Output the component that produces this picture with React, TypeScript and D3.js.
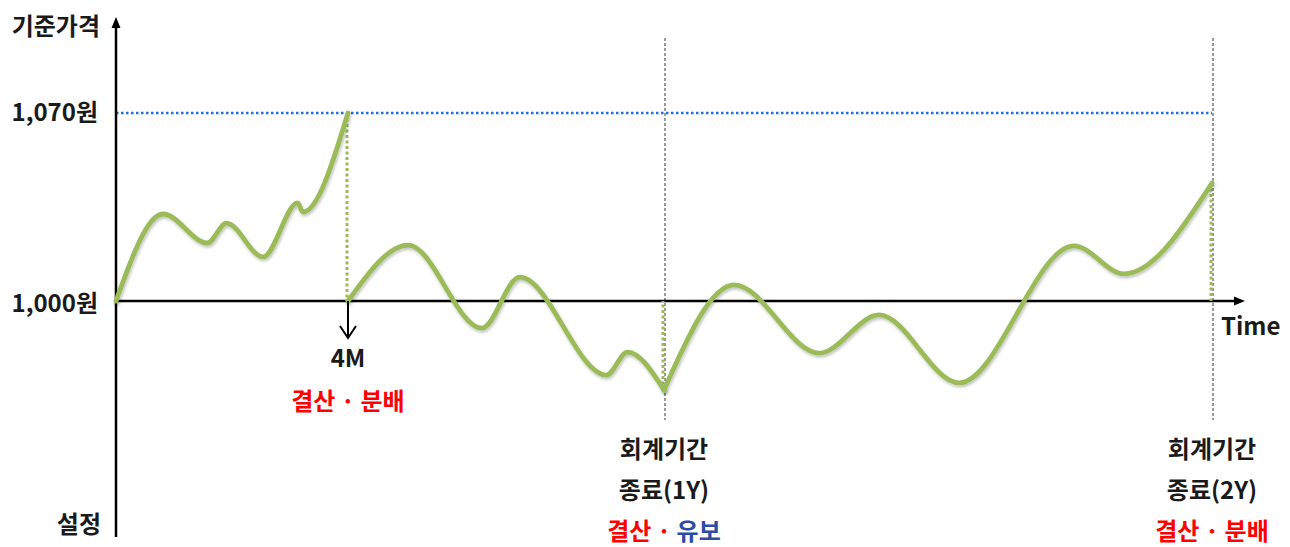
import { curveMonotoneX, line, scaleLinear, select } from 'd3';
import React, { useEffect, useRef } from 'react';

// t: months since launch (1Y = 12, 2Y = 24), v: NAV per unit (원)
const beforeFirstPayout = [
  { t: 0, v: 1000 },
  { t: 1.03, v: 1032.4 },
  { t: 2.0, v: 1021.6 },
  { t: 2.42, v: 1029.0 },
  { t: 3.22, v: 1016.4 },
  { t: 3.98, v: 1036.5 },
  { t: 4.09, v: 1033.1 },
  { t: 5.08, v: 1070 },
];
const firstYear = [
  { t: 5.08, v: 1000 },
  { t: 6.4, v: 1020.8 },
  { t: 8.01, v: 989.9 },
  { t: 8.84, v: 1008.9 },
  { t: 10.74, v: 972.4 },
  { t: 11.2, v: 981.0 },
  { t: 12, v: 966.9 },
];
const secondYear = [
  { t: 12, v: 966.9 },
  { t: 13.54, v: 1006 },
  { t: 15.4, v: 980.6 },
  { t: 16.71, v: 994.8 },
  { t: 18.46, v: 969.5 },
  { t: 20.98, v: 1020.5 },
  { t: 22.07, v: 1010.1 },
  { t: 24, v: 1043.9 },
];

const basePrice = 1000;
const highPrice = 1070;
const priceLabels = [
  { v: 1070, label: '1,070원' },
  { v: 1000, label: '1,000원' },
];
const payoutTime = 5.08;
const periodEnds = [
  { t: 12, line1: '회계기간', line2: '종료(1Y)', action: '유보', actionColor: '#2B4BA5' },
  { t: 24, line1: '회계기간', line2: '종료(2Y)', action: '분배', actionColor: '#FF0000' },
];

const GREEN = '#9BBB59';
const FONT = "'Noto Sans CJK KR', 'Noto Sans', sans-serif";
const FONT_SIZE = 24;

const App: React.FC = () => {
  const svgRef = useRef<SVGSVGElement>(null);

  useEffect(() => {
    const svg = select(svgRef.current);
    svg.selectAll('*').remove();

    const xScale = scaleLinear().domain([0, 24]).range([116, 1212]);
    const yScale = scaleLinear().domain([basePrice, highPrice]).range([301, 113]);
    const x0 = xScale(0);
    const y0 = yScale(basePrice);

    const defs = svg.append('defs');
    const shadow = defs
      .append('filter')
      .attr('id', 'shadow')
      .attr('x', '-10%')
      .attr('y', '-10%')
      .attr('width', '120%')
      .attr('height', '130%');
    shadow
      .append('feDropShadow')
      .attr('dx', 1)
      .attr('dy', 2)
      .attr('stdDeviation', 1.5)
      .attr('flood-color', '#000')
      .attr('flood-opacity', 0.25);

    // reference lines
    svg
      .append('line')
      .attr('x1', x0)
      .attr('x2', xScale(24))
      .attr('y1', yScale(highPrice))
      .attr('y2', yScale(highPrice))
      .attr('stroke', '#1E6FE8')
      .attr('stroke-width', 2.5)
      .attr('stroke-dasharray', '2.5,2.5');
    svg
      .selectAll('.period-line')
      .data(periodEnds)
      .join('line')
      .attr('class', 'period-line')
      .attr('x1', (d) => xScale(d.t) + 1)
      .attr('x2', (d) => xScale(d.t) + 1)
      .attr('y1', 38)
      .attr('y2', 420)
      .attr('stroke', '#333')
      .attr('stroke-width', 1)
      .attr('stroke-dasharray', '3,2');

    // axes
    svg
      .append('line')
      .attr('x1', x0)
      .attr('x2', x0)
      .attr('y1', 537)
      .attr('y2', 26)
      .attr('stroke', '#000')
      .attr('stroke-width', 2.5);
    svg
      .append('path')
      .attr('d', `M${x0 - 4.5},${28} L${x0},${17} L${x0 + 4.5},${28} Z`)
      .attr('fill', '#000');
    svg
      .append('line')
      .attr('x1', x0)
      .attr('x2', 1236)
      .attr('y1', y0)
      .attr('y2', y0)
      .attr('stroke', '#000')
      .attr('stroke-width', 2.5);
    svg
      .append('path')
      .attr('d', `M1234,${y0 - 4.5} L1245,${y0} L1234,${y0 + 4.5} Z`)
      .attr('fill', '#000');

    // payout drops (dotted green)
    const drops = [
      { t: payoutTime, from: highPrice },
      { t: 12, from: firstYear[firstYear.length - 1].v },
      { t: 24, from: secondYear[secondYear.length - 1].v },
    ];
    svg
      .selectAll('.drop')
      .data(drops)
      .join('line')
      .attr('class', 'drop')
      .attr('x1', (d) => xScale(d.t) - 1)
      .attr('x2', (d) => xScale(d.t) - 1)
      .attr('y1', (d) => yScale(d.from))
      .attr('y2', y0)
      .attr('stroke', GREEN)
      .attr('stroke-width', 3)
      .attr('stroke-dasharray', '3,2.5');

    // NAV line
    const lineGenerator = line<{ t: number; v: number }>()
      .x((d) => xScale(d.t))
      .y((d) => yScale(d.v))
      .curve(curveMonotoneX);
    svg
      .selectAll('.nav')
      .data([beforeFirstPayout, firstYear, secondYear])
      .join('path')
      .attr('class', 'nav')
      .attr('fill', 'none')
      .attr('stroke', GREEN)
      .attr('stroke-width', 4.8)
      .attr('stroke-linejoin', 'round')
      .attr('stroke-linecap', 'round')
      .attr('filter', 'url(#shadow)')
      .attr('d', (d) => lineGenerator(d));

    // 4M arrow
    const px = xScale(payoutTime);
    svg
      .append('path')
      .attr('d', `M${px},${y0} L${px},${338} M${px - 8},${326} L${px},${338} L${px + 8},${326}`)
      .attr('fill', 'none')
      .attr('stroke', '#000')
      .attr('stroke-width', 2);

    const text = (x: number, y: number, str: string, anchor = 'middle', color = '#1a1a1a') =>
      svg
        .append('text')
        .attr('x', x)
        .attr('y', y)
        .attr('text-anchor', anchor)
        .attr('fill', color)
        .attr('font-family', FONT)
        .attr('font-weight', 700)
        .attr('font-size', FONT_SIZE)
        .text(str);

    text(100, 35, '기준가격', 'end');
    priceLabels.forEach((p) => {
      text(98, yScale(p.v) + (p.v === basePrice ? 11 : 8), p.label, 'end');
    });
    text(101, 533, '설정', 'end');
    text(1221, 335, 'Time', 'start');
    text(px, 367, '4M');

    const payoutLabel = (x: number, y: number, action: string, color: string) => {
      const t = svg
        .append('text')
        .attr('x', x)
        .attr('y', y)
        .attr('text-anchor', 'middle')
        .attr('font-family', FONT)
        .attr('font-weight', 700)
        .attr('font-size', FONT_SIZE);
      t.append('tspan').attr('fill', '#FF0000').text('결산 · ');
      t.append('tspan').attr('fill', color).text(action);
    };
    payoutLabel(px, 410, '분배', '#FF0000');

    periodEnds.forEach((p) => {
      const x = xScale(p.t);
      text(x, 458, p.line1);
      text(x, 499, p.line2);
      payoutLabel(x, 540, p.action, p.actionColor);
    });
  }, []);

  return (
    <svg
      ref={svgRef}
      width={1290}
      height={547}
      style={{ position: 'absolute', left: 0, top: 0, background: '#fff' }}
    />
  );
};

export default App;
